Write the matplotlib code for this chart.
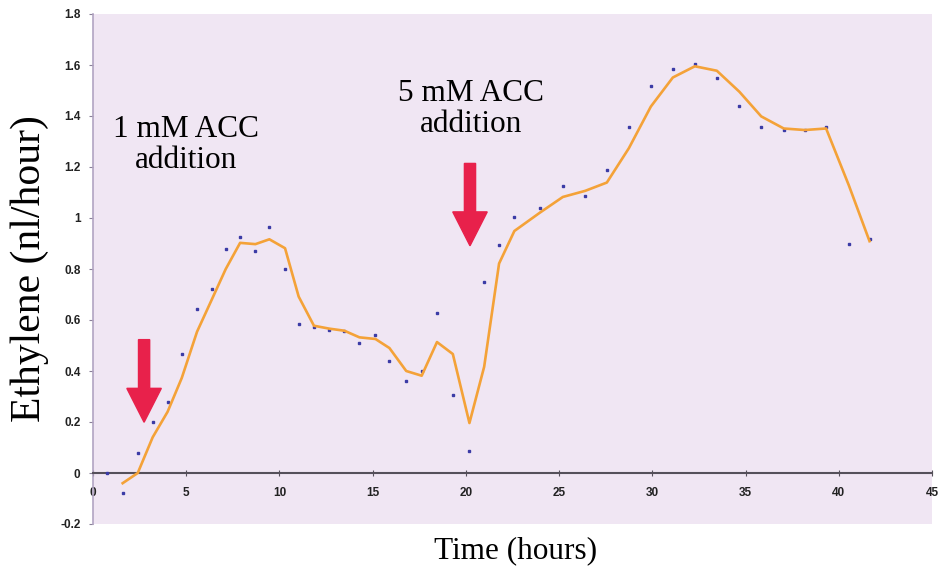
import matplotlib
matplotlib.use("Agg")
import matplotlib.pyplot as plt
import pandas as pd
from matplotlib.ticker import FuncFormatter, MultipleLocator

# measured ethylene production (dots); line is a 2-point moving average
time_h = [0.73, 1.59, 2.40, 3.20, 4.00, 4.76, 5.58, 6.38, 7.12, 7.89,
          8.71, 9.46, 10.30, 11.03, 11.85, 12.68, 13.48, 14.29, 15.15, 15.90,
          16.80, 17.63, 18.45, 19.30, 20.19, 20.98, 21.78, 22.60, 23.98, 25.20,
          26.40, 27.56, 28.74, 29.92, 31.10, 32.28, 33.46, 34.67, 35.84, 37.05,
          38.18, 39.32, 40.54, 41.65]
ethylene = [0.00, -0.08, 0.08, 0.20, 0.28, 0.465, 0.643, 0.72, 0.88, 0.925,
            0.87, 0.963, 0.80, 0.584, 0.571, 0.561, 0.555, 0.509, 0.542, 0.438,
            0.362, 0.401, 0.626, 0.307, 0.085, 0.748, 0.895, 1.003, 1.04, 1.125,
            1.088, 1.19, 1.357, 1.517, 1.585, 1.605, 1.55, 1.44, 1.357, 1.345,
            1.345, 1.357, 0.899, 0.919]

labels = ["1 mM ACC\naddition", "5 mM ACC\naddition"]
label_pos = [(5.0, 1.286), (20.3, 1.427)]
arrows = [(2.74, 0.523, 0.199), (20.22, 1.214, 0.891)]

df = pd.DataFrame({"t": time_h, "y": ethylene})
df["ma"] = df["y"].rolling(2).mean()

fig = plt.figure(figsize=(9.4, 5.72), dpi=100)
ax = fig.add_axes([93 / 940, 48 / 572, 839 / 940, 510 / 572])
ax.set_facecolor("#F0E6F3")

ax.plot(df["t"], df["y"], linestyle="none", marker="s", markersize=1.9,
        color="#3B3BA6", zorder=3)
ax.plot(df["t"], df["ma"], color="#F4A238", linewidth=1.9, zorder=4)

for (x, y0, y1) in arrows:
    ax.arrow(x, y0, 0, y1 - y0, width=0.6, head_width=1.85, head_length=0.133,
             length_includes_head=True, color="#E8214B", zorder=5)

for txt, (x, y) in zip(labels, label_pos):
    ax.text(x, y, txt, ha="center", va="center", multialignment="center",
            fontsize=22.5, family="Liberation Serif", linespacing=1.12)

ax.set_xlim(0, 45)
ax.set_ylim(-0.2, 1.8)
ax.xaxis.set_major_locator(MultipleLocator(5))
ax.yaxis.set_major_locator(MultipleLocator(0.2))
ax.yaxis.set_major_formatter(FuncFormatter(lambda v, p: "%g" % round(v, 1)))

ax.spines["top"].set_visible(False)
ax.spines["right"].set_visible(False)
ax.spines["left"].set_color("#B2A4C2")
ax.spines["left"].set_linewidth(1.2)
ax.spines["bottom"].set_position(("data", 0))
ax.spines["bottom"].set_color("#55505A")
ax.spines["bottom"].set_linewidth(1.5)

ax.tick_params(axis="y", direction="out", length=3, width=0.8, color="#8A8098",
               pad=6, labelsize=8.5)
ax.tick_params(axis="x", direction="inout", length=4, width=0.8, color="#55505A",
               pad=8, labelsize=8.5)
for lab in ax.get_xticklabels() + ax.get_yticklabels():
    lab.set_fontfamily("Liberation Sans")
    lab.set_fontweight("bold")
    lab.set_color("#222222")

fig.text(516 / 940, 1 - 551 / 572, "Time (hours)", ha="center", va="center",
         fontsize=22.5, family="Liberation Serif")
fig.text(30 / 940, 1 - 269 / 572, "Ethylene (nl/hour)", ha="center", va="center",
         rotation=90, fontsize=30, family="Liberation Serif")

fig.savefig("out.png", dpi=100)
